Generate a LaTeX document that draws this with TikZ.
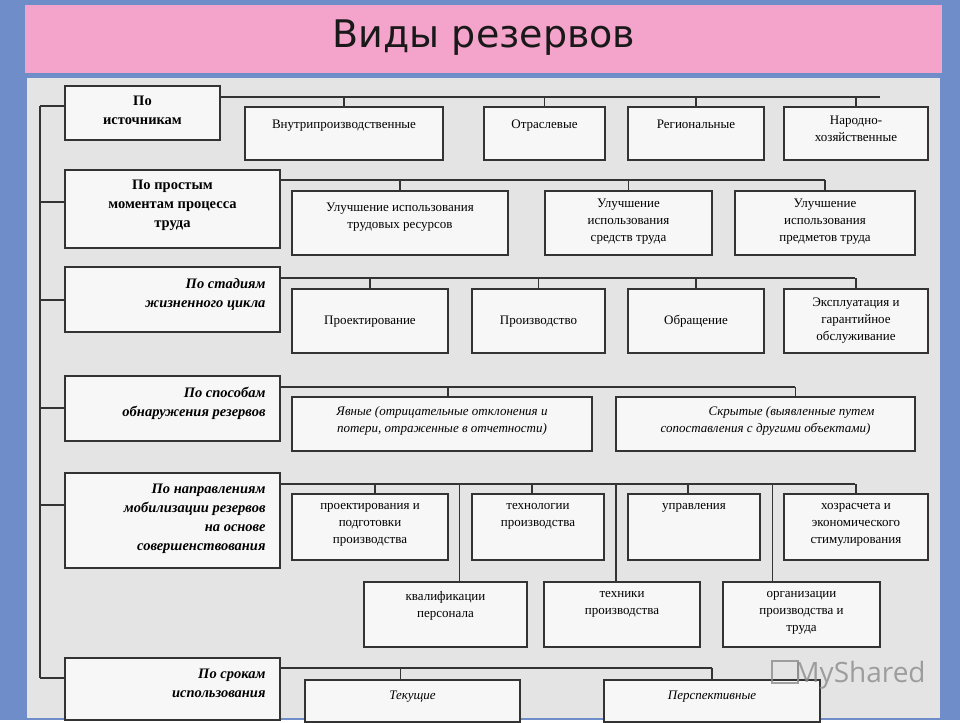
\documentclass[tikz,border=0pt]{standalone}
\usepackage{fontspec}
\setmainfont{Liberation Serif}
\newfontfamily\titlefont{DejaVu Sans}
\newfontfamily\wmfont{Open Sans}
\usetikzlibrary{fit}
\definecolor{bluebg}{HTML}{6F8DC9}
\definecolor{panel}{HTML}{E4E4E4}
\definecolor{pinkbar}{HTML}{F4A3CB}
\definecolor{ln}{HTML}{333333}
\tikzset{
 box/.style={draw=ln,line width=1.4pt,fill=white!97!black,inner sep=0pt},
 wire/.style={draw=ln,line width=1.6pt},
 ttx/.style={anchor=north,align=center,font=\fontsize{13}{17}\selectfont,inner sep=0pt},
 ctx/.style={anchor=north,align=center,font=\fontsize{14.5}{19}\selectfont\bfseries,inner sep=0pt},
 itx/.style={anchor=north east,align=right,font=\fontsize{14.5}{19}\selectfont\bfseries\itshape,inner sep=0pt},
 stx/.style={anchor=north,align=center,font=\fontsize{13}{17}\selectfont\itshape,inner sep=0pt},
}
\newcommand\bx[5]{\node[box,fit={(#2,#3)(#4,#5)}] (#1) {};}
\begin{document}
\begin{tikzpicture}[x=1pt,y=-1pt]
\fill[bluebg] (0,0) rectangle (960,720);
\fill[panel] (27,78) rectangle (940,718);
\fill[pinkbar] (25,5) rectangle (942,73);
\node[font=\titlefont\fontsize{38}{42}\selectfont,text=black!90] (title) at (484,38) {Виды резервов};
% spine
\coordinate (sp0) at (40,106);
\coordinate (sp1) at (40,678);
\draw[wire] (sp0) -- (sp1);
% left boxes
\bx{c1}{65}{86}{220}{140}
\bx{c2}{65}{170}{280}{248}
\bx{c3}{65}{267}{280}{332}
\bx{c4}{65}{376}{280}{441}
\bx{c5}{65}{473}{280}{568}
\bx{c6}{65}{658}{280}{720}
\node[ctx] (t1) at ([yshift=-11]c1.north) {По\\источникам};
\node[ctx] (t2) at ([yshift=-11]c2.north) {По простым\\моментам процесса\\труда};
\node[itx] (t3) at ([xshift=-15,yshift=-12]c3.north east) {По стадиям\\жизненного цикла};
\node[itx] (t4) at ([xshift=-15,yshift=-12]c4.north east) {По способам\\обнаружения резервов};
\node[itx] (t5) at ([xshift=-15,yshift=-11]c5.north east) {По направлениям\\мобилизации резервов\\на основе\\совершенствования};
\node[itx] (t6) at ([xshift=-15,yshift=-11]c6.north east) {По срокам\\использования};
\foreach \c/\y in {c1/106,c2/202,c3/300,c4/408,c5/505,c6/678}{
 \draw[wire] (\c.west |- 0,\y) -- (sp0 |- 0,\y);
}
% row 1
\coordinate (h1) at (880,97);
\draw[wire] (c1.east |- h1) -- (h1);
\bx{a1}{245}{107}{443}{160}
\bx{a2}{484}{107}{605}{160}
\bx{a3}{628}{107}{764}{160}
\bx{a4}{784}{107}{928}{160}
\node[ttx] at ([yshift=-13]a1.north) {Внутрипроизводственные};
\node[ttx] at ([yshift=-13]a2.north) {Отраслевые};
\node[ttx] at ([yshift=-9]a3.north |- a2.north) {\vphantom{Р}};
\node[ttx] at ([yshift=-13]a3.north) {Региональные};
\node[ttx] at ([yshift=-9]a4.north) {Народно-\\хозяйственные};
\foreach \n in {a1,a2,a3,a4} \draw[wire] (\n.north) -- (\n.north |- h1);
% row 2
\coordinate (h2) at (825,180);
\draw[wire] (c2.east |- h2) -- (h2);
\bx{b1}{292}{191}{508}{255}
\bx{b2}{545}{191}{712}{255}
\bx{b3}{735}{191}{915}{255}
\node[ttx] at ([yshift=-12]b1.north) {Улучшение использования\\трудовых ресурсов};
\node[ttx] at ([yshift=-8]b2.north) {Улучшение\\использования\\средств труда};
\node[ttx] at ([yshift=-8]b3.north) {Улучшение\\использования\\предметов труда};
\foreach \n in {b1,b2,b3} \draw[wire] (\n.north) -- (\n.north |- h2);
% row 3
\coordinate (h3) at (855,278);
\draw[wire] (c3.east |- h3) -- (h3);
\bx{d1}{292}{289}{448}{353}
\bx{d2}{472}{289}{605}{353}
\bx{d3}{628}{289}{764}{353}
\bx{d4}{784}{289}{928}{353}
\node[ttx] at ([yshift=-27]d1.north) {Проектирование};
\node[ttx] at ([yshift=-27]d2.north) {Производство};
\node[ttx] at ([yshift=-27]d3.north) {Обращение};
\node[ttx] at ([yshift=-9]d4.north) {Эксплуатация и\\гарантийное\\обслуживание};
\foreach \n in {d1,d2,d3,d4} \draw[wire] (\n.north) -- (\n.north |- h3);
% row 4
\coordinate (h4) at (795,387);
\draw[wire] (c4.east |- h4) -- (h4);
\bx{e1}{292}{397}{592}{451}
\bx{e2}{616}{397}{915}{451}
\node[stx] at ([yshift=-10]e1.north) {Явные (отрицательные отклонения и\\потери, отраженные в отчетности)};
\node[stx] at ([yshift=-10]e2.north) {\hspace*{4em}Скрытые (выявленные путем\\сопоставления с другими объектами)};
\draw[wire] ([xshift=6]e1.north) -- ([xshift=6]e1.north |- h4);
\draw[wire] ([xshift=30]e2.north) -- ([xshift=30]e2.north |- h4);
% row 5
\coordinate (h5) at (855,484);
\draw[wire] (c5.east |- h5) -- (h5);
\bx{f1}{292}{494}{448}{560}
\bx{f2}{472}{494}{604}{560}
\bx{f3}{628}{494}{760}{560}
\bx{f4}{784}{494}{928}{560}
\bx{g1}{364}{582}{527}{647}
\bx{g2}{544}{582}{700}{647}
\bx{g3}{723}{582}{880}{647}
\node[ttx] at ([yshift=-10]f1.north) {проектирования и\\подготовки\\производства};
\node[ttx] at ([yshift=-10]f2.north) {технологии\\производства};
\node[ttx] at ([yshift=-10]f3.north) {управления};
\node[ttx] at ([yshift=-10]f4.north) {хозрасчета и\\экономического\\стимулирования};
\node[ttx] at ([yshift=-10]g1.north) {квалификации\\персонала};
\node[ttx] at ([yshift=-10]g2.north) {техники\\производства};
\node[ttx] at ([yshift=-10]g3.north) {организации\\производства и\\труда};
\draw[wire] ([xshift=5]f1.north) -- ([xshift=5]f1.north |- h5);
\draw[wire] ([xshift=-6]f2.north) -- ([xshift=-6]f2.north |- h5);
\draw[wire] ([xshift=-6]f3.north) -- ([xshift=-6]f3.north |- h5);
\draw[wire] (f4.north) -- (f4.north |- h5);
\draw[wire] ([xshift=14]g1.north) -- ([xshift=14]g1.north |- h5);
\draw[wire] ([xshift=-6]g2.north) -- ([xshift=-6]g2.north |- h5);
\draw[wire] ([xshift=-29]g3.north) -- ([xshift=-29]g3.north |- h5);
% row 6
\coordinate (h6) at (712,668);
\draw[wire] (c6.east |- h6) -- (h6);
\bx{k1}{305}{680}{520}{722}
\bx{k2}{604}{680}{820}{722}
\node[stx] at ([yshift=-11]k1.north) {Текущие};
\node[stx] at ([yshift=-11]k2.north) {Перспективные};
\draw[wire] ([xshift=-12]k1.north) -- ([xshift=-12]k1.north |- h6);
\draw[wire] ([xshift=0]k2.north) -- ([xshift=0]k2.north |- h6);
\node[font=\wmfont\fontsize{28}{30}\selectfont,text=black!45,opacity=0.8] (wm) at (860,675) {MyShared};
\node[draw=black!45,line width=2pt,minimum width=26,minimum height=22,opacity=0.8] (wmi) at (785,672) {};
\end{tikzpicture}
\end{document}
